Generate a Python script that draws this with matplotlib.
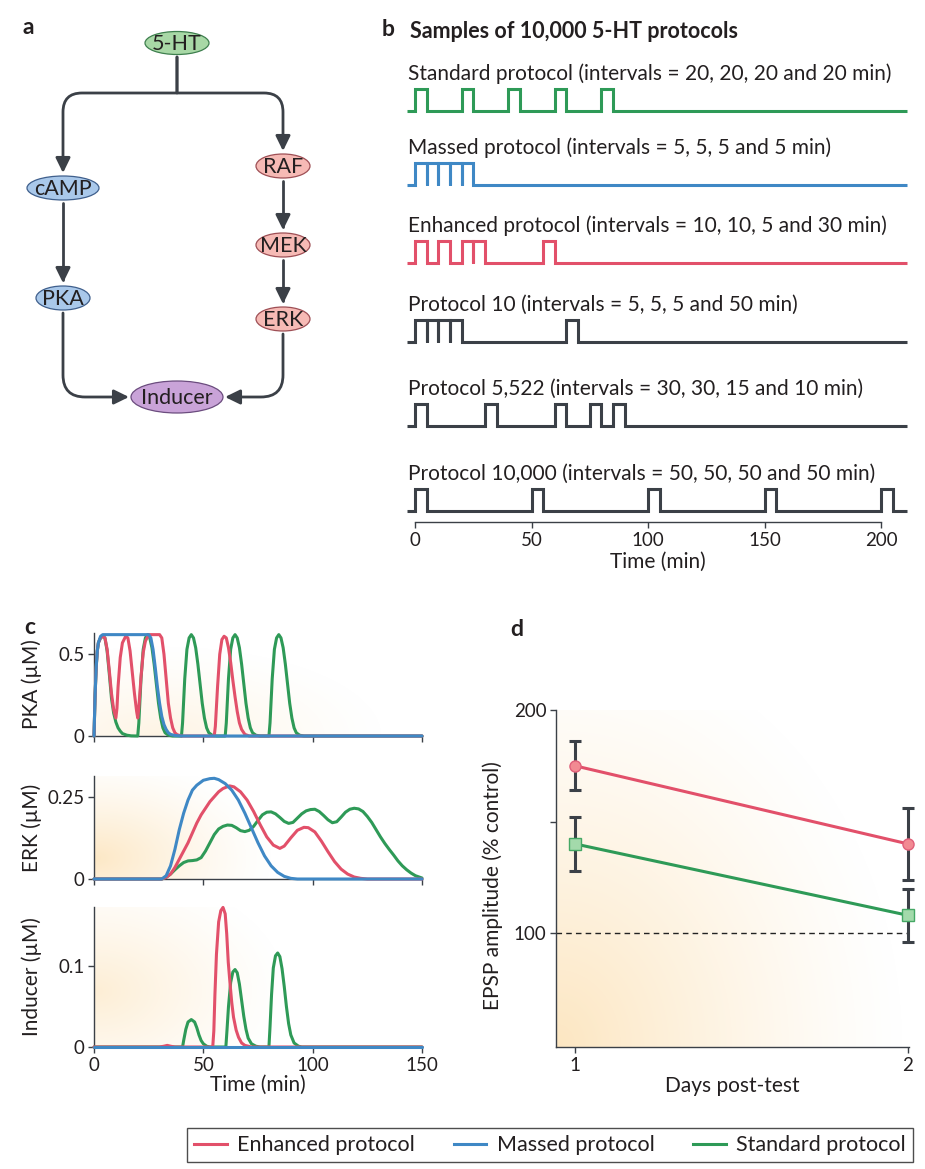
import numpy as np
import matplotlib
matplotlib.use('Agg')
import matplotlib.pyplot as plt
from matplotlib.patches import Ellipse, FancyArrowPatch
from matplotlib.path import Path
from matplotlib.lines import Line2D

plt.rcParams['font.family'] = ['Lato', 'DejaVu Sans']
plt.rcParams['font.size'] = 13
plt.rcParams['axes.linewidth'] = 1.0

# ------------------------------------------------------------------ data
pathway_nodes = ['5-HT', 'cAMP', 'PKA', 'RAF', 'MEK', 'ERK', 'Inducer']
pathway_edges = [('5-HT', 'cAMP'), ('5-HT', 'RAF'), ('cAMP', 'PKA'),
                 ('RAF', 'MEK'), ('MEK', 'ERK'), ('PKA', 'Inducer'),
                 ('ERK', 'Inducer')]

protocol_names = ['Standard protocol (intervals = 20, 20, 20 and 20 min)',
                  'Massed protocol (intervals = 5, 5, 5 and 5 min)',
                  'Enhanced protocol (intervals = 10, 10, 5 and 30 min)',
                  'Protocol 10 (intervals = 5, 5, 5 and 50 min)',
                  'Protocol 5,522 (intervals = 30, 30, 15 and 10 min)',
                  'Protocol 10,000 (intervals = 50, 50, 50 and 50 min)']
protocol_intervals = [[20, 20, 20, 20], [5, 5, 5, 5], [10, 10, 5, 30],
                      [5, 5, 5, 50], [30, 30, 15, 10], [50, 50, 50, 50]]
pulse_minutes = 5
protocol_time_ticks = [0, 50, 100, 150, 200]

# PKA (uM)
pka_massed = [(0, 0), (0.5, 0.25), (1, 0.42), (1.5, 0.52), (2, 0.57), (3, 0.61),
              (4, 0.62), (5, 0.62), (25, 0.62), (26, 0.6), (27, 0.53), (28, 0.42),
              (29, 0.3), (30, 0.2), (31, 0.12), (32, 0.07), (33, 0.04), (34, 0.02),
              (35, 0.01), (37, 0.003), (40, 0), (150, 0)]
pka_enhanced = [(0, 0), (0.5, 0.25), (1, 0.42), (1.5, 0.52), (2, 0.57), (3, 0.6),
                (4, 0.61), (5, 0.6), (6, 0.53), (7, 0.4), (8, 0.26), (9, 0.16),
                (10, 0.11), (10.5, 0.17), (11, 0.3), (12, 0.48), (13, 0.57),
                (14.5, 0.61), (15.5, 0.6), (16.5, 0.52), (17.5, 0.39), (18.5, 0.26),
                (19.5, 0.15), (20, 0.11), (20.5, 0.17), (21.5, 0.36), (22.5, 0.51),
                (23.5, 0.58), (25, 0.62), (30, 0.62), (31, 0.6), (32, 0.5),
                (33, 0.35), (34, 0.2), (35, 0.11), (36, 0.05), (37, 0.02),
                (38, 0.008), (40, 0), (55, 0), (55.5, 0.06), (56.5, 0.3),
                (57.5, 0.5), (58.5, 0.59), (59.5, 0.61), (60.5, 0.6), (61.5, 0.54),
                (62.5, 0.45), (63.5, 0.34), (64.5, 0.24), (65.5, 0.15), (66.5, 0.08),
                (67.5, 0.04), (69, 0.01), (71, 0), (150, 0)]
pka_standard = [(0, 0), (0.5, 0.25), (1, 0.42), (1.5, 0.52), (2, 0.57), (3, 0.6),
                (4, 0.61), (5, 0.6), (6, 0.52), (7, 0.38), (8, 0.23), (9, 0.14),
                (10, 0.085), (11, 0.05), (12, 0.03), (13, 0.015), (15, 0.005),
                (17, 0.001), (20, 0),
                (20.5, 0.08), (21.5, 0.35), (22.5, 0.53), (23.5, 0.6), (24.5, 0.62),
                (25.5, 0.6), (26.5, 0.54), (27.5, 0.44), (28.5, 0.32), (29.5, 0.2),
                (30.5, 0.11), (31.5, 0.05), (32.5, 0.02), (34, 0.005), (36, 0),
                (40, 0), (40.5, 0.08), (41.5, 0.35), (42.5, 0.53), (43.5, 0.6),
                (44.5, 0.62), (45.5, 0.6), (46.5, 0.54), (47.5, 0.44), (48.5, 0.32),
                (49.5, 0.2), (50.5, 0.11), (51.5, 0.05), (52.5, 0.02), (54, 0.005),
                (56, 0), (60, 0), (60.5, 0.08), (61.5, 0.35), (62.5, 0.53),
                (63.5, 0.6), (64.5, 0.62), (65.5, 0.6), (66.5, 0.54), (67.5, 0.44),
                (68.5, 0.32), (69.5, 0.2), (70.5, 0.11), (71.5, 0.05), (72.5, 0.02),
                (74, 0.005), (76, 0), (80, 0), (80.5, 0.08), (81.5, 0.35),
                (82.5, 0.53), (83.5, 0.6), (84.5, 0.62), (85.5, 0.6), (86.5, 0.54),
                (87.5, 0.44), (88.5, 0.32), (89.5, 0.2), (90.5, 0.11), (91.5, 0.05),
                (92.5, 0.02), (94, 0.005), (96, 0), (150, 0)]

# ERK (uM)
erk_massed = [(0, 0), (31, 0), (33, 0.01), (35, 0.04), (37, 0.09), (39, 0.15),
              (41, 0.2), (43, 0.24), (45, 0.27), (47, 0.285), (50, 0.3), (53, 0.305),
              (55, 0.306), (57, 0.302), (60, 0.29), (63, 0.27), (66, 0.24),
              (69, 0.2), (72, 0.155), (75, 0.11), (78, 0.07), (81, 0.04),
              (84, 0.02), (87, 0.008), (90, 0.002), (93, 0), (150, 0)]
erk_enhanced = [(0, 0), (31, 0), (33, 0.005), (35, 0.015), (37, 0.035), (39, 0.06),
                (41, 0.085), (43, 0.11), (45, 0.14), (47, 0.17), (49, 0.195),
                (51, 0.215), (53, 0.235), (55, 0.25), (57, 0.265), (59, 0.275),
                (62, 0.283), (64, 0.28), (67, 0.265), (70, 0.24), (73, 0.205),
                (76, 0.165), (79, 0.128), (82, 0.103), (85, 0.093), (87, 0.1),
                (90, 0.125), (93, 0.148), (96, 0.157), (98, 0.156), (101, 0.143),
                (104, 0.115), (107, 0.083), (110, 0.053), (113, 0.03), (116, 0.015),
                (119, 0.006), (122, 0.002), (125, 0), (150, 0)]
erk_standard = [(0, 0), (31, 0), (33, 0.005), (35, 0.015), (37, 0.028), (39, 0.04),
                (41, 0.05), (43, 0.055), (45, 0.056), (47, 0.058), (49, 0.065),
                (51, 0.085), (53, 0.11), (55, 0.135), (57, 0.152), (59, 0.16),
                (61, 0.164), (63, 0.163), (65, 0.156), (67, 0.147), (69, 0.144),
                (71, 0.148), (73, 0.16), (75, 0.178), (77, 0.195), (79, 0.203),
                (81, 0.204), (83, 0.198), (85, 0.187), (87, 0.175), (89, 0.169),
                (91, 0.172), (93, 0.185), (95, 0.198), (97, 0.207), (99, 0.211),
                (101, 0.212), (103, 0.205), (105, 0.193), (107, 0.18), (109, 0.171),
                (111, 0.174), (113, 0.188), (115, 0.203), (117, 0.212), (119, 0.215),
                (121, 0.213), (123, 0.205), (125, 0.19), (127, 0.172), (129, 0.15),
                (131, 0.128), (133, 0.108), (135, 0.09), (137, 0.073), (139, 0.055),
                (141, 0.04), (143, 0.028), (145, 0.018), (147, 0.01), (150, 0.003)]

# Inducer (uM)
inducer_massed = [(0, 0), (150, 0)]
inducer_enhanced = [(0, 0), (30, 0), (32, 0.001), (33.5, 0.002), (35, 0.001), (37, 0),
                    (54.3, 0), (54.8, 0.02), (55.3, 0.065), (56, 0.115), (57, 0.155),
                    (58, 0.169), (59, 0.173), (60, 0.165), (60.7, 0.14), (61.4, 0.105),
                    (62.2, 0.079), (63, 0.055), (63.8, 0.037), (65, 0.021),
                    (66.1, 0.012), (67.5, 0.005), (69, 0.002), (72, 0), (150, 0)]
inducer_standard = [(0, 0), (40.5, 0), (41, 0.008), (42, 0.022), (43, 0.031),
                    (44.5, 0.034), (46, 0.031), (47, 0.024), (48, 0.015), (49, 0.008),
                    (50, 0.004), (51.5, 0.001), (53, 0), (60.3, 0), (60.8, 0.02),
                    (61.5, 0.05), (62.5, 0.08), (63.5, 0.093), (64.5, 0.096),
                    (65.5, 0.092), (66.5, 0.078), (67.5, 0.058), (68.5, 0.038),
                    (69.5, 0.022), (70.5, 0.011), (72, 0.004), (74, 0.001), (76, 0),
                    (80, 0), (80.5, 0.025), (81.2, 0.065), (82, 0.098), (83, 0.113),
                    (84, 0.1165), (85, 0.112), (86, 0.097), (87, 0.075), (88, 0.05),
                    (89, 0.029), (90, 0.015), (91.5, 0.005), (93.5, 0.001), (95, 0),
                    (150, 0)]

# panel d
days_post_test = [1, 2]
epsp_enhanced = [175, 140]
epsp_enhanced_err = [11, 16]
epsp_standard = [140, 108]
epsp_standard_err = [12, 12]

legend_labels = ['Enhanced protocol', 'Massed protocol', 'Standard protocol']

# ------------------------------------------------------------------ style
RED = '#E2506A'
BLUE = '#3F88C5'
GREEN = '#2E9A57'
DARK = '#3B4047'
TEXT = '#231F20'
FS_TEXT = 15
FS_TICK = 13.5

W, H = 925, 1169
fig = plt.figure(figsize=(W / 100, H / 100), dpi=100)


def px_axes(left, top, right, bottom):
    return fig.add_axes([left / W, 1 - bottom / H, (right - left) / W, (bottom - top) / H])


def style_axes(ax):
    for s in ['top', 'right']:
        ax.spines[s].set_visible(False)
    for s in ['left', 'bottom']:
        ax.spines[s].set_color(DARK)
        ax.spines[s].set_linewidth(1.0)
    ax.tick_params(direction='out', length=4, width=1, color=DARK,
                   labelcolor=TEXT, labelsize=FS_TICK, pad=3)
    ax.set_facecolor('none')


def add_glow(ax, cx, cy, rx, ry, amax):
    n = 200
    xx, yy = np.meshgrid(np.linspace(0, 1, n), np.linspace(0, 1, n))
    d = np.sqrt(((xx - cx) / rx) ** 2 + ((yy - cy) / ry) ** 2)
    a = amax * np.clip(1 - d, 0, 1) ** 1.3
    img = np.zeros((n, n, 4))
    img[..., 0] = 0.99
    img[..., 1] = 0.88
    img[..., 2] = 0.70
    img[..., 3] = a
    ax.imshow(img, extent=(0, 1, 0, 1), transform=ax.transAxes, origin='lower',
              aspect='auto', zorder=0, interpolation='bilinear')


# overlay axes in pixel coordinates (panel a + panel letters)
ov = fig.add_axes([0, 0, 1, 1])
ov.set_xlim(0, W)
ov.set_ylim(H, 0)
ov.axis('off')

# ------------------------------------------------------------------ panel a
node_layout = {'5-HT': (177, 43, 64, 23, '#A8D8A6', '#3E7F4E'),
               'cAMP': (63, 188, 72, 24, '#A9C8EA', '#3F5F8C'),
               'PKA': (63, 298, 54, 24, '#A9C8EA', '#3F5F8C'),
               'RAF': (283, 166, 54, 24, '#F6BAB5', '#9E4F55'),
               'MEK': (283, 245, 54, 24, '#F6BAB5', '#9E4F55'),
               'ERK': (283, 319, 54, 24, '#F6BAB5', '#9E4F55'),
               'Inducer': (177, 397, 92, 32, '#C9A3D8', '#6B4C7E')}
M, L, C = Path.MOVETO, Path.LINETO, Path.CURVE3
edge_routes = {
    ('5-HT', 'cAMP'): ([(177, 57), (177, 93), (82, 93), (63, 93), (63, 112), (63, 173)],
                       [M, L, L, C, C, L]),
    ('5-HT', 'RAF'): ([(177, 57), (177, 93), (264, 93), (283, 93), (283, 112), (283, 151)],
                      [M, L, L, C, C, L]),
    ('cAMP', 'PKA'): ([(63, 203), (63, 283)], [M, L]),
    ('RAF', 'MEK'): ([(283, 181), (283, 230)], [M, L]),
    ('MEK', 'ERK'): ([(283, 260), (283, 304)], [M, L]),
    ('PKA', 'Inducer'): ([(63, 313), (63, 375), (63, 397), (85, 397), (129, 397)],
                         [M, L, C, C, L]),
    ('ERK', 'Inducer'): ([(283, 334), (283, 375), (283, 397), (261, 397), (225, 397)],
                         [M, L, C, C, L]),
}
for e in pathway_edges:
    verts, codes = edge_routes[e]
    arr = FancyArrowPatch(path=Path(verts, codes),
                          arrowstyle='-|>,head_length=0.45,head_width=0.22',
                          mutation_scale=20, lw=2.0, color=DARK, zorder=2)
    ov.add_patch(arr)
for name in pathway_nodes:
    x, y, w, h, fc, ec = node_layout[name]
    ov.add_patch(Ellipse((x, y), w, h, facecolor=fc, edgecolor=ec, lw=0.9, zorder=3))
    ov.text(x, y + 1, name, ha='center', va='center', fontsize=15.5, color=TEXT, zorder=4)

ov.text(28, 28, 'a', fontsize=16.5, fontweight='bold', ha='center', va='center', color=TEXT)

# ------------------------------------------------------------------ panel b
ov.text(388, 30, 'b', fontsize=16.5, fontweight='bold', ha='center', va='center', color=TEXT)
ov.text(410, 31, 'Samples of 10,000 5-HT protocols', fontsize=15.5, fontweight='bold',
        ha='left', va='center', color=TEXT)

ax_b = px_axes(400, 15, 915, 522)
style_axes(ax_b)
ax_b.spines['left'].set_visible(False)
px_per_min = 2.33
t0_px = 415
ax_b.set_xlim((400 - t0_px) / px_per_min, (915 - t0_px) / px_per_min)
ax_b.set_ylim(522, 15)
row_baselines = [111, 185, 263, 342, 426, 511]
pulse_height = 22
label_offset = 37
row_colors = [GREEN, BLUE, RED, DARK, DARK, DARK]
for name, intervals, base, col in zip(protocol_names, protocol_intervals,
                                      row_baselines, row_colors):
    onsets = np.concatenate([[0], np.cumsum(intervals)])
    xs, ys = [-3.5], [0]
    for s in onsets:
        xs += [s, s, s + pulse_minutes, s + pulse_minutes]
        ys += [0, 1, 1, 0]
    xs.append(211)
    ys.append(0)
    ax_b.plot(xs, base - pulse_height * np.array(ys), color=col, lw=2.2,
              solid_joinstyle='miter', solid_capstyle='butt', clip_on=False)
    ax_b.text(-2.8, base - label_offset, name, ha='left', va='center',
              fontsize=FS_TEXT, color=TEXT)
ax_b.spines['bottom'].set_bounds(0, 200)
ax_b.set_xticks(protocol_time_ticks)
ax_b.set_yticks([])
ax_b.set_xlabel('Time (min)', fontsize=FS_TEXT, color=TEXT, labelpad=2)

# ------------------------------------------------------------------ panel c
ov.text(30, 628, 'c', fontsize=16.5, fontweight='bold', ha='center', va='center', color=TEXT)
ax_pka = px_axes(94, 633, 422, 736)
ax_erk = px_axes(94, 776, 422, 879)
ax_ind = px_axes(94, 907, 422, 1047)
panel_c = [(ax_pka, pka_enhanced, pka_massed, pka_standard, 0.63, [0, 0.5], ['0', '0.5'],
            'PKA (µM)', (0.2, 0.0, 0.7, 0.9, 0.35)),
           (ax_erk, erk_enhanced, erk_massed, erk_standard, 0.313, [0, 0.25], ['0', '0.25'],
            'ERK (µM)', (0.0, 0.2, 0.55, 1.0, 0.75)),
           (ax_ind, inducer_enhanced, inducer_massed, inducer_standard, 0.1735, [0, 0.1],
            ['0', '0.1'], 'Inducer (µM)', (0.0, 0.4, 0.6, 0.9, 0.55))]
for ax, enh, mas, std, ytop, yt, ytl, ylab, glow in panel_c:
    style_axes(ax)
    add_glow(ax, *glow)
    for series, col in [(std, GREEN), (enh, RED), (mas, BLUE)]:
        t, v = np.array(series, dtype=float).T
        ax.plot(t, v, color=col, lw=2.2, clip_on=False, solid_capstyle='round', zorder=3)
    ax.set_xlim(0, 150)
    ax.set_ylim(0, ytop)
    ax.set_xticks([0, 50, 100, 150])
    ax.set_yticks(yt)
    ax.set_yticklabels(ytl)
    ax.set_ylabel(ylab, fontsize=FS_TEXT, color=TEXT)
    ax.yaxis.set_label_coords(-0.158, 0.5)
ax_pka.set_xticklabels([])
ax_erk.set_xticklabels([])
ax_ind.set_xlabel('Time (min)', fontsize=FS_TEXT, color=TEXT, labelpad=1)

# ------------------------------------------------------------------ panel d
ov.text(517, 630, 'd', fontsize=16.5, fontweight='bold', ha='center', va='center', color=TEXT)
ax_d = px_axes(556, 710, 909, 1047)
style_axes(ax_d)
add_glow(ax_d, 0.0, 0.0, 1.0, 1.25, 0.8)
ax_d.axhline(100, color='#222222', lw=1.0, dashes=(4, 3), zorder=1)
ax_d.plot(days_post_test, epsp_enhanced, color=RED, lw=2.2, zorder=2)
ax_d.plot(days_post_test, epsp_standard, color=GREEN, lw=2.2, zorder=2)
ax_d.errorbar(days_post_test, epsp_enhanced, yerr=epsp_enhanced_err, fmt='none',
              ecolor=DARK, elinewidth=2.2, capsize=4, capthick=2.2, zorder=3, clip_on=False)
ax_d.errorbar(days_post_test, epsp_standard, yerr=epsp_standard_err, fmt='none',
              ecolor=DARK, elinewidth=2.2, capsize=4, capthick=2.2, zorder=3, clip_on=False)
ax_d.plot(days_post_test, epsp_enhanced, 'o', ms=8, mfc='#F28A92', mec='#E0607A',
          mew=1, zorder=4, clip_on=False)
ax_d.plot(days_post_test, epsp_standard, 's', ms=9, mfc='#A3DAAB', mec='#45A865',
          mew=1, zorder=4, clip_on=False)
ax_d.set_xlim(0.943, 2.003)
ax_d.set_ylim(49, 200)
ax_d.set_xticks([1, 2])
ax_d.set_yticks([100, 150, 200])
ax_d.set_yticklabels(['100', '', '200'])
ax_d.set_xlabel('Days post-test', fontsize=FS_TEXT, color=TEXT, labelpad=2)
ax_d.set_ylabel('EPSP amplitude (% control)', fontsize=FS_TEXT, color=TEXT)
ax_d.yaxis.set_label_coords(-0.15, 0.48)

# ------------------------------------------------------------------ legend
handles = [Line2D([], [], color=c, lw=2.2) for c in (RED, BLUE, GREEN)]
leg = fig.legend(handles, legend_labels, loc='lower right',
                 bbox_to_anchor=(913 / W, 1 - 1162 / H), ncol=3, frameon=True,
                 fancybox=False, edgecolor='#222222', fontsize=15.5,
                 handlelength=1.5, handletextpad=0.5, columnspacing=1.8,
                 borderpad=0.32, borderaxespad=0)
leg.get_frame().set_linewidth(1.0)
for txt in leg.get_texts():
    txt.set_color(TEXT)

fig.savefig('out.png', dpi=100, facecolor='white')
